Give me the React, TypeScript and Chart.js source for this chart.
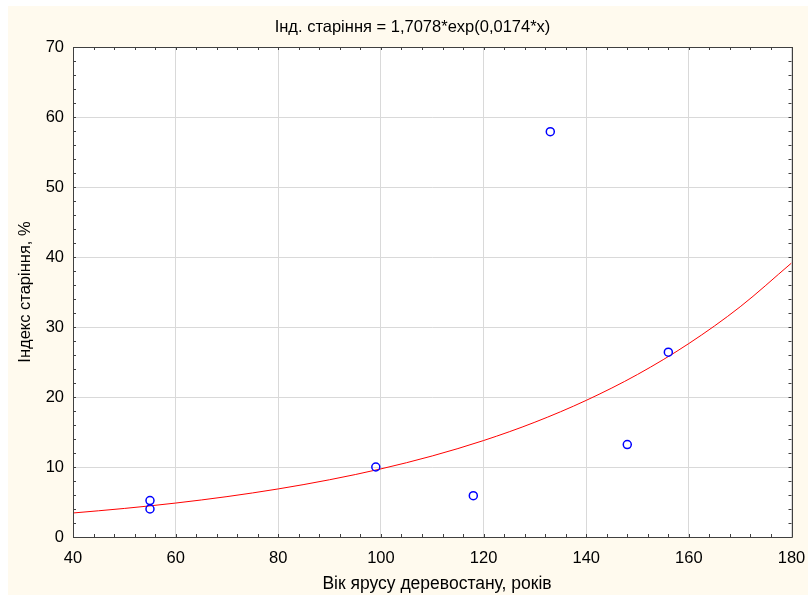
import React, { useEffect, useRef } from "react";
import { Chart, registerables } from "chart.js";

Chart.register(...registerables);

const pointAges = [55, 55, 99, 118, 133, 148, 156];
const pointIndex = [5.2, 4.0, 10.0, 5.9, 57.9, 13.2, 26.4];

const curveAges = [40, 50, 60, 70, 80, 90, 100, 110, 120, 130, 140, 150, 160, 170, 180];
const curveIndex = [3.43, 4.08, 4.85, 5.77, 6.87, 8.18, 9.73, 11.58, 13.78, 16.4, 19.52, 23.22, 27.64, 32.89, 39.14];

const titleText = "Інд. старіння = 1,7078*exp(0,0174*x)";
const xTitle = "Вік ярусу деревостану, років";
const yTitle = "Індекс старіння, %";

const FONT = "'Liberation Sans', Arial, sans-serif";

const framePlugin = {
  id: "frame",
  beforeDraw(chart: any) {
    const { ctx, chartArea: a } = chart;
    ctx.save();
    ctx.fillStyle = "rgb(255,250,238)";
    ctx.fillRect(0, 0, chart.width, chart.height);
    ctx.fillStyle = "#ffffff";
    ctx.fillRect(a.left, a.top, a.right - a.left, a.bottom - a.top);
    ctx.restore();
  },
  afterDatasetsDraw(chart: any) {
    const { ctx, chartArea: a, scales } = chart;
    const xs = scales.x;
    const ys = scales.y;
    ctx.save();
    ctx.strokeStyle = "#404040";
    ctx.lineWidth = 1;
    ctx.beginPath();
    ctx.rect(Math.round(a.left) + 0.5, Math.round(a.top) + 0.5, Math.round(a.right - a.left), Math.round(a.bottom - a.top));
    ctx.stroke();
    ctx.beginPath();
    const tl = 3;
    for (let v = 40; v <= 180; v += 4) {
      const px = Math.round(xs.getPixelForValue(v)) + 0.5;
      ctx.moveTo(px, a.bottom);
      ctx.lineTo(px, a.bottom - tl);
      ctx.moveTo(px, a.top);
      ctx.lineTo(px, a.top + tl);
    }
    for (let v = 0; v <= 70; v += 2) {
      const py = Math.round(ys.getPixelForValue(v)) + 0.5;
      ctx.moveTo(a.left, py);
      ctx.lineTo(a.left + tl, py);
      ctx.moveTo(a.right, py);
      ctx.lineTo(a.right - tl, py);
    }
    ctx.stroke();

    // chart title and x-axis title
    ctx.fillStyle = "#000";
    ctx.textAlign = "center";
    ctx.textBaseline = "alphabetic";
    ctx.font = `16.5px ${FONT}`;
    ctx.fillText(titleText, 404.5, 26);
    ctx.font = `17.5px ${FONT}`;
    ctx.fillText(xTitle, 429, 582.5);
    ctx.restore();
  },
};

export default function App() {
  const ref = useRef<HTMLCanvasElement>(null);
  useEffect(() => {
    if (!ref.current) return;
    const chart = new Chart(ref.current, {
      type: "scatter",
      data: {
        datasets: [
          {
            label: "points",
            data: pointAges.map((x, i) => ({ x, y: pointIndex[i] })),
            pointStyle: "circle",
            pointRadius: 4,
            pointBorderWidth: 1.5,
            borderColor: "#0000ff",
            backgroundColor: "rgba(0,0,0,0)",
            showLine: false,
          },
          {
            label: "curve",
            data: curveAges.map((x, i) => ({ x, y: curveIndex[i] })),
            showLine: true,
            pointRadius: 0,
            borderColor: "#ff0000",
            borderWidth: 1,
            cubicInterpolationMode: "monotone",
            fill: false,
          },
        ],
      },
      options: {
        animation: false,
        responsive: false,
        devicePixelRatio: 1,
        layout: { padding: { left: 0, right: 16.5, top: 41, bottom: 0 } },
        plugins: {
          legend: { display: false },
          tooltip: { enabled: false },
          title: { display: false },
        },
        scales: {
          x: {
            type: "linear",
            min: 40,
            max: 180,
            afterFit: (s: any) => {
              s.height = 58;
              s.paddingLeft = 0;
              s.paddingRight = 0;
            },
            ticks: {
              stepSize: 20,
              color: "#000",
              padding: 11.5,
              font: { family: FONT, size: 16.5 },
            },
            grid: { color: "#d9d9d9", drawTicks: false },
            border: { display: false },
            title: { display: false },
          },
          y: {
            type: "linear",
            min: 0,
            max: 70,
            afterFit: (s: any) => {
              s.width = 65;
              s.paddingTop = 0;
              s.paddingBottom = 0;
            },
            ticks: {
              stepSize: 10,
              color: "#000",
              padding: 9,
              font: { family: FONT, size: 16.5 },
            },
            grid: { color: "#d9d9d9", drawTicks: false },
            border: { display: false },
            title: {
              display: true,
              text: yTitle,
              color: "#000",
              font: { family: FONT, size: 16.5 },
              padding: { top: 7.6, bottom: 0 },
            },
          },
        },
      },
      plugins: [framePlugin],
    } as any);
    return () => chart.destroy();
  }, []);
  return (
    <div style={{ width: 808, height: 595, boxSizing: "border-box", padding: "6px 0 0 8px", overflow: "hidden" }}>
      <style>{"html,body{margin:0;padding:0;overflow:hidden;}"}</style>
      <div style={{ width: 800, height: 589 }}>
        <canvas ref={ref} width={800} height={589} style={{ display: "block", width: 800, height: 589 }} />
      </div>
    </div>
  );
}
